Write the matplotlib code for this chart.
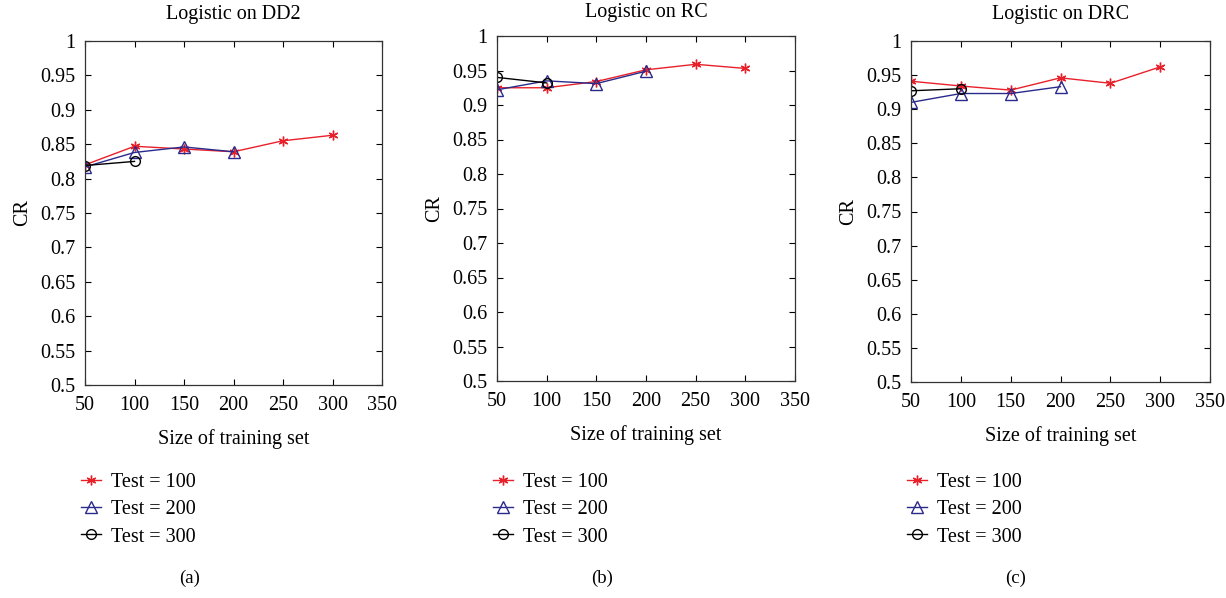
import numpy as np
import matplotlib
matplotlib.use('Agg')
import matplotlib.pyplot as plt

plt.rcParams['font.family'] = ['Liberation Serif', 'DejaVu Serif']

train_sizes = [50, 100, 150, 200, 250, 300]

titles = ['Logistic on DD2', 'Logistic on RC', 'Logistic on DRC']
captions = ['(a)', '(b)', '(c)']

# CR values per panel: test=100 (6 points), test=200 (4 points), test=300 (2 points)
dd2_t100 = [0.820, 0.847, 0.843, 0.839, 0.855, 0.863]
dd2_t200 = [0.817, 0.838, 0.846, 0.839]
dd2_t300 = [0.819, 0.825]

rc_t100 = [0.925, 0.925, 0.934, 0.951, 0.959, 0.953]
rc_t200 = [0.922, 0.935, 0.931, 0.949]
rc_t300 = [0.940, 0.932]

drc_t100 = [0.941, 0.934, 0.928, 0.946, 0.938, 0.962]
drc_t200 = [0.910, 0.923, 0.923, 0.933]
drc_t300 = [0.927, 0.930]

panels = [(dd2_t100, dd2_t200, dd2_t300),
          (rc_t100, rc_t200, rc_t300),
          (drc_t100, drc_t200, drc_t300)]

W, H = 1226, 598
FS = 14.5
fig = plt.figure(figsize=(W / 100, H / 100), dpi=100)

boxes = [(85, 41, 382, 385), (497, 36, 795, 381), (911, 41, 1210, 382)]
title_y = [14, 13, 14]

for i, (t100, t200, t300) in enumerate(panels):
    x0, y0, x1, y1 = boxes[i]
    ax = fig.add_axes([x0 / W, 1 - y1 / H, (x1 - x0) / W, (y1 - y0) / H])
    l1, = ax.plot(train_sizes[:len(t100)], t100, color='#e8202a', lw=1,
                  marker=(6, 2, 0), ms=7, mew=1, label='Test = 100')
    l2, = ax.plot(train_sizes[:len(t200)], t200, color='#2a2a8c', lw=1,
                  marker='^', ms=8, mfc='none', mew=1, label='Test = 200')
    l3, = ax.plot(train_sizes[:len(t300)], t300, color='black', lw=1,
                  marker='o', ms=7, mfc='none', mew=1, label='Test = 300')
    ax.set_xlim(50, 350)
    ax.set_ylim(0.5, 1)
    ax.set_xticks(np.arange(50, 351, 50))
    ax.set_yticks(np.arange(0.5, 1.001, 0.05))
    ax.set_yticklabels(['0.5', '0.55', '0.6', '0.65', '0.7', '0.75', '0.8',
                        '0.85', '0.9', '0.95', '1'])
    ax.tick_params(direction='in', top=True, right=True, labelsize=FS,
                   length=4, width=0.8)
    ax.tick_params(axis='x', pad=8)
    ax.tick_params(axis='y', pad=7)
    for sp in ax.spines.values():
        sp.set_linewidth(0.9)
        sp.set_color('#333333')
    fig.text((x0 + x1) / 2 / W, 1 - title_y[i] / H, titles[i], fontsize=FS,
             ha='center', va='center')
    ax.set_xlabel('Size of training set', fontsize=FS, labelpad=10)
    ax.set_ylabel('CR', fontsize=FS, labelpad=6)
    ax.legend(handles=[l1, l2, l3], loc='upper left',
              bbox_to_anchor=((x0 - 22) / W, 1 - 455 / H),
              bbox_transform=fig.transFigure,
              frameon=False, fontsize=FS, handlelength=1.0,
              labelspacing=0.4, handletextpad=0.5)
    fig.text((x0 + 105) / W, 1 - 578 / H, captions[i], fontsize=13.5,
             ha='center', va='center')

fig.savefig('out.png', dpi=100)
